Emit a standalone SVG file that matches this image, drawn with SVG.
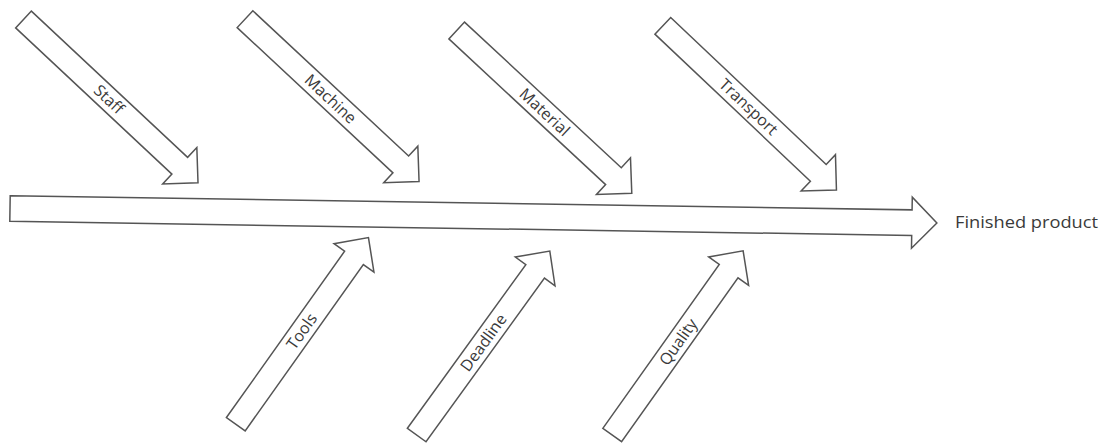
<svg xmlns="http://www.w3.org/2000/svg" width="1111" height="443" viewBox="0 0 1111 443">
<style>
.a{fill:#fff;stroke:#555;stroke-width:1.5;stroke-linejoin:miter}
.t{font-family:"Open Sans","Liberation Sans",sans-serif;font-size:16px;fill:#3a3a3a;text-anchor:middle}
.f{font-family:"Open Sans","Liberation Sans",sans-serif;font-size:17px;fill:#3a3a3a}
</style>
<rect width="1111" height="443" fill="#fff"/>
<g id="connectors">
<g id="spine" transform="translate(10,208.5) rotate(0.9)">
<polygon class="a" points="0,-12.8 902,-12.8 902,-25.5 927,0 902,25.5 902,12.8 0,12.8"/>
</g>
</g>
<g id="staff" transform="translate(23.5,19.5) rotate(43.1)">
<polygon class="a" points="0,-11.5 214,-11.5 214,-25 239,0 214,25 214,11.5 0,11.5"/>
<text class="t" x="117" y="5.5">Staff</text>
</g>
<g id="machine" transform="translate(245,19.2) rotate(43)">
<polygon class="a" points="0,-11.5 213,-11.5 213,-25 238,0 213,25 213,11.5 0,11.5"/>
<text class="t" x="117" y="5.5">Machine</text>
</g>
<g id="material" transform="translate(456.7,30.5) rotate(42.9)">
<polygon class="a" points="0,-11.5 214,-11.5 214,-25 239,0 214,25 214,11.5 0,11.5"/>
<text class="t" x="120" y="5.5">Material</text>
</g>
<g id="transport" transform="translate(662.8,25.8) rotate(43.4)">
<polygon class="a" points="0,-11.5 214,-11.5 214,-25 239,0 214,25 214,11.5 0,11.5"/>
<text class="t" x="118" y="5.5">Transport</text>
</g>
<g id="tools" transform="translate(235.8,424.2) rotate(-54.6)">
<polygon class="a" points="0,-11.5 204,-11.5 204,-24.5 229,0 204,24.5 204,11.5 0,11.5"/>
<text class="t" x="114" y="5.5">Tools</text>
</g>
<g id="deadline" transform="translate(416.7,435) rotate(-54.1)">
<polygon class="a" points="0,-11.5 202,-11.5 202,-24.5 227,0 202,24.5 202,11.5 0,11.5"/>
<text class="t" x="114" y="5.5">Deadline</text>
</g>
<g id="quality" transform="translate(612.2,435) rotate(-54.6)">
<polygon class="a" points="0,-11.5 201,-11.5 201,-24.5 226,0 201,24.5 201,11.5 0,11.5"/>
<text class="t" x="114" y="5.5">Quality</text>
</g>
<g id="finished-product">
<text class="f" x="955" y="228" textLength="143" lengthAdjust="spacingAndGlyphs">Finished product</text>
</g>
</svg>
